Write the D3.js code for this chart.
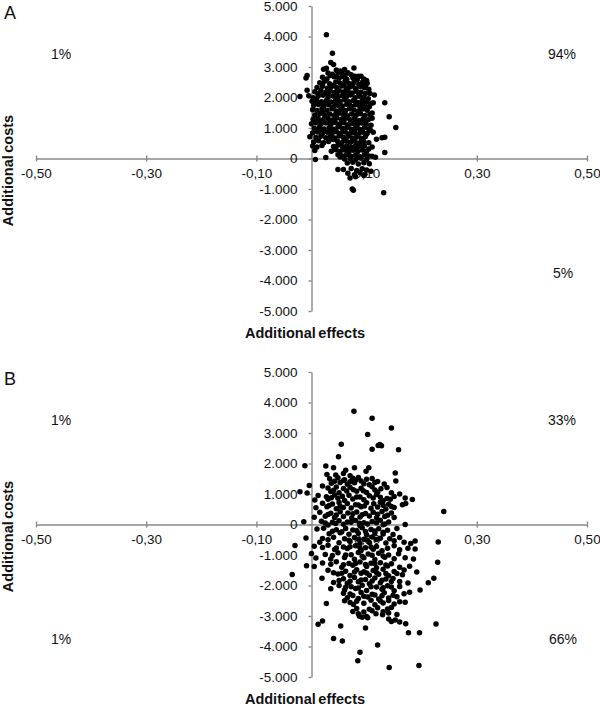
<!DOCTYPE html>
<html><head><meta charset="utf-8">
<script src="https://cdn.jsdelivr.net/npm/d3@7"></script>
<style>body{margin:0;background:#fff}svg{display:block}</style>
</head><body>
<svg id="chart" width="600" height="709"></svg>
<script>
const xTicks = [-0.5, -0.3, -0.1, 0.1, 0.3, 0.5];
const yTicks = [5000, 4000, 3000, 2000, 1000, 0, -1000, -2000, -3000, -4000, -5000];
const panelNames = ["A", "B"];
const xTitle = "Additional effects";
const yTitle = "Additional costs";
const quadrantTextA = ["1%", "94%", "", "5%"]; // NW, NE, SW, SE
const quadrantTextB = ["1%", "33%", "1%", "66%"];

const effectsA = [
0.027,0.038,0.035,0.040,
0.022,0.027,0.045,0.052,0.060,0.077,
0.030,0.038,0.048,0.055,0.066,0.072,0.085,
-0.010,-0.008,0.020,0.028,0.041,0.050,0.058,0.064,0.075,0.083,0.090,0.095,0.100,
0.015,0.024,0.033,0.044,0.052,0.061,0.068,0.077,0.086,0.093,0.101,0.098,
0.010,0.020,0.029,0.037,0.046,0.055,0.063,0.071,0.080,0.088,0.096,0.104,
-0.008,0.006,0.017,0.026,0.034,0.042,0.050,0.058,0.066,0.074,0.082,0.090,0.098,0.114,
-0.021,-0.005,0.003,0.012,0.021,0.030,0.039,0.047,0.055,0.063,0.071,0.079,0.087,0.095,0.103,
0.001,0.009,0.018,0.027,0.035,0.044,0.052,0.060,0.068,0.076,0.084,0.092,0.100,0.108,
0.004,0.013,0.022,0.031,0.040,0.048,0.056,0.064,0.072,0.080,0.088,0.097,0.105,0.133,
0.002,0.010,0.019,0.028,0.037,0.045,0.053,0.061,0.069,0.077,0.085,0.093,0.101,
0.006,0.015,0.024,0.033,0.041,0.049,0.057,0.065,0.073,0.081,0.089,0.097,0.106,0.141,
0.003,0.012,0.021,0.030,0.038,0.046,0.054,0.062,0.070,0.078,0.086,0.094,0.103,0.110,
0.000,0.008,0.017,0.026,0.035,0.043,0.051,0.059,0.067,0.075,0.083,0.091,0.099,0.108,
0.005,0.014,0.023,0.032,0.040,0.048,0.056,0.064,0.072,0.080,0.088,0.096,0.104,0.153,
0.002,0.011,0.020,0.029,0.037,0.045,0.053,0.061,0.069,0.077,0.085,0.093,0.101,0.112,
-0.003,0.008,0.017,0.026,0.034,0.042,0.050,0.058,0.066,0.074,0.082,0.090,0.098,0.128,0.133,
0.004,0.013,0.022,0.031,0.047,0.055,0.063,0.071,0.079,0.087,0.095,0.104,
0.002,0.010,0.019,0.040,0.048,0.056,0.064,0.072,0.080,0.088,0.096,0.110,
0.006,0.036,0.044,0.052,0.060,0.068,0.076,0.084,0.092,0.100,0.133,
0.048,0.056,0.064,0.072,0.080,0.088,0.096,0.104,
0.007,0.026,0.060,0.070,0.080,0.090,0.100,0.116,
0.065,0.075,0.085,0.095,0.105,
0.048,0.058,0.072,0.082,0.092,0.100,0.108,
0.066,0.078,0.088,0.097,
0.070,0.080,0.095,
0.074,0.076,0.131,
0.034,0.045,0.061,0.079,
0.020,0.040,0.059,0.075,0.092,
0.012,0.030,0.046,0.062,0.086,0.106,
0.008,0.026,0.044,0.068,0.092,0.112,
0.020,0.045,0.061,0.085,0.110,
0.016,0.034,0.058,0.082,0.098,
0.018,0.036,0.060,0.078,0.107,
0.039,0.060,0.075,0.091,0.118,
0.044,0.064,0.080,0.104,
0.052,0.085,0.110
];
const costsA = [
4060,3450,3150,3080,
2930,2960,2900,2870,2920,2970,
2800,2760,2830,2780,2810,2750,2700,
2640,2720,2660,2610,2680,2630,2690,2600,2650,2580,2700,2610,2560,
2480,2530,2450,2510,2470,2540,2460,2500,2430,2520,2470,2390,
2330,2370,2300,2360,2320,2380,2310,2350,2290,2360,2320,2270,
2240,2190,2230,2170,2210,2160,2230,2180,2220,2150,2200,2170,2130,2080,
2030,2060,1990,2040,2070,2010,2050,2000,2060,2020,2080,1990,2040,2000,1960,
1880,1920,1860,1900,1850,1910,1870,1930,1860,1900,1840,1890,1850,1800,
1740,1770,1720,1760,1700,1750,1720,1780,1710,1760,1690,1740,1700,1830,
1600,1570,1620,1580,1630,1560,1610,1570,1630,1590,1550,1620,1580,
1430,1470,1420,1460,1410,1480,1440,1400,1460,1420,1470,1410,1440,1370,
1290,1320,1270,1310,1260,1330,1280,1320,1270,1310,1250,1300,1270,1320,
1140,1170,1120,1160,1110,1180,1130,1170,1110,1150,1100,1160,1120,1090,
990,1020,970,1010,960,1030,980,1020,960,1000,950,1010,970,1020,
840,870,820,860,810,880,830,870,810,850,800,860,820,860,
710,690,730,680,720,670,740,690,730,670,710,660,720,680,700,
540,580,520,560,570,520,580,530,570,510,560,520,
410,380,430,390,440,380,420,370,430,390,410,380,
260,240,290,230,280,220,270,230,280,240,200,
120,80,130,70,110,60,120,80,
-30,30,-20,0,-40,10,-30,40,
-150,-120,-180,-140,-170,
-360,-360,-330,-390,-340,-380,-420,
-480,-530,-470,-520,
-640,-600,-560,
-1000,-1040,-1120,
2720,2690,2740,2700,
2420,2400,2440,2410,2430,
2120,2100,2140,2110,2090,2130,
1820,1800,1840,1810,1790,1830,
1520,1500,1540,1510,1490,
1220,1200,1240,1210,1190,
920,900,940,910,930,
620,600,640,610,630,
320,300,340,310,
50,30,70
];

const effectsB = [
0.077,0.110,0.145,0.102,0.054,0.121,0.124,0.127,0.110,0.158,0.049,
-0.012,0.026,0.040,0.078,0.104,0.099,0.062,0.152,
0.028,0.044,0.058,0.070,
0.033,0.048,0.060,0.075,0.080,0.085,0.100,0.110,0.153,
0.036,0.052,0.065,0.078,0.095,0.105,0.115,0.132,
-0.004,0.020,0.030,0.045,0.058,0.070,0.090,0.110,0.126,0.137,
-0.021,-0.008,0.035,0.050,0.082,0.100,0.120,0.145,0.160,
0.012,0.027,0.042,0.056,0.068,0.088,0.105,0.118,0.150,0.170,
0.183,0.006,0.030,0.060,0.075,0.095,0.130,0.143,
0.020,0.038,0.050,0.065,0.080,0.100,0.113,0.125,0.140,0.165,0.171,
0.008,0.028,0.045,0.058,0.072,0.090,0.108,0.120,0.135,0.150,
0.240,
0.015,0.035,0.052,0.066,0.082,0.098,0.112,0.128,0.145,
0.005,0.025,0.042,0.058,0.073,0.088,0.105,0.118,0.133,0.150,
-0.014,0.018,0.038,0.050,0.065,0.080,0.095,0.110,0.125,0.140,
0.170,0.030,0.058,0.088,0.102,0.130,
0.010,0.022,0.045,0.062,0.075,0.092,0.108,0.122,0.138,0.155,
0.032,0.052,0.068,0.085,0.100,0.115,0.130,0.148,
-0.010,0.020,0.040,0.060,0.078,0.095,0.110,0.125,0.142,0.160,0.188,
0.230,0.015,0.050,0.070,0.088,0.105,0.135,0.168,0.180,
-0.030,0.005,0.030,0.058,0.080,0.098,0.118,0.150,
0.188,0.042,0.065,0.090,0.112,0.128,0.160,0.175,
0.000,0.025,0.048,0.072,0.085,0.103,0.122,0.140,0.158,
0.008,0.035,0.060,0.078,0.095,0.115,0.133,0.150,0.170,0.185,
0.229,0.020,0.045,0.068,0.088,0.108,0.125,0.145,
-0.009,0.005,0.055,0.075,0.100,0.118,0.138,0.160,0.178,
0.030,0.062,0.082,0.095,0.112,0.130,0.150,0.168,0.191,
-0.035,0.048,0.070,0.090,0.105,0.122,0.140,0.155,0.165,
0.019,0.058,0.078,0.098,0.115,0.135,0.148,0.222,
0.040,0.065,0.085,0.105,0.125,0.145,0.175,0.212,
0.050,0.072,0.092,0.118,0.138,0.160,
0.035,0.060,0.080,0.100,0.128,0.150,0.197,
0.058,0.070,0.090,0.110,0.132,0.168,0.178,
0.065,0.085,0.102,0.122,0.140,0.155,
0.027,0.070,0.076,0.095,0.115,0.130,0.150,0.170,
0.082,0.105,0.120,0.138,0.145,
0.085,0.117,0.129,0.140,0.155,
0.087,0.092,0.100,0.102,
0.020,0.140,0.145,0.152,0.160,
0.012,0.171,0.226,
0.053,0.098,0.176,0.196,0.040,0.056,0.120,0.088,0.084,0.195,0.141,
0.042,0.058,0.070,0.090,0.120,
0.040,0.064,0.076,0.094,0.115,
0.036,0.048,0.082,0.112,0.125,0.137,
0.032,0.052,0.085,0.096,0.130,0.145,
0.030,0.045,0.075,0.092,0.120,0.138,
0.025,0.044,0.072,0.087,0.118,0.133,
0.038,0.055,0.082,0.098,0.115,0.130,
0.030,0.068,0.085,0.100,0.118,0.150,
0.020,0.045,0.070,0.088,0.108,0.138,
0.038,0.062,0.092,0.110,0.130,
0.035,0.058,0.080,0.098,0.115,0.135,
0.040,0.055,0.078,0.100,0.118,0.135,
0.050,0.070,0.090,0.110,0.128,0.160,
0.062,0.085,0.108,0.130,0.145,
0.075,0.095,0.115,0.128,0.148,
0.060,0.082,0.108,0.125,0.140,0.160,
0.075,0.095,0.110,0.130
];
const costsB = [
3710,3480,3160,2950,2630,2590,2620,2580,2470,2450,2220,
1930,1920,1860,1860,1860,1750,1780,1690,
1640,1620,1670,1600,
1500,1530,1470,1520,1450,1540,1480,1510,1430,
1350,1380,1320,1370,1340,1300,1380,1330,
1280,1260,1200,1230,1180,1220,1190,1240,1170,1210,
1070,1030,1080,1040,1090,1050,1060,1040,1000,
950,910,970,930,960,900,940,980,920,870,
820,800,830,790,840,810,780,830,
700,670,720,690,650,710,680,730,660,650,690,
550,580,520,560,540,580,530,570,510,560,
430,
400,370,420,380,410,360,400,430,380,
240,270,230,260,210,250,280,220,260,230,
90,110,70,120,80,130,60,100,140,80,
0,-20,10,-40,20,-10,
-150,-120,-170,-130,-180,-110,-160,-140,-190,-130,
-300,-270,-320,-290,-340,-280,-310,-330,
-440,-460,-420,-470,-430,-480,-410,-450,-470,-430,-540,
-570,-580,-600,-560,-620,-590,-610,-580,-620,
-690,-710,-680,-740,-700,-760,-720,-700,
-800,-820,-790,-850,-810,-860,-830,-780,
-950,-980,-930,-990,-920,-970,-940,-1000,-960,
-1100,-1130,-1080,-1140,-1090,-1150,-1070,-1120,-1090,-1130,
-1240,-1260,-1220,-1280,-1230,-1270,-1250,-1290,
-1350,-1380,-1400,-1340,-1380,-1420,-1360,-1400,-1370,
-1500,-1530,-1480,-1550,-1510,-1470,-1540,-1490,-1560,
-1640,-1620,-1670,-1600,-1660,-1630,-1680,-1610,-1650,
-1760,-1780,-1740,-1800,-1750,-1790,-1770,-1760,
-1900,-1930,-1880,-1940,-1910,-1870,-1920,-1910,
-2000,-2040,-1990,-2050,-2010,-2030,
-2110,-2150,-2100,-2160,-2120,-2170,-2150,
-2250,-2280,-2230,-2290,-2240,-2270,-2220,
-2400,-2430,-2380,-2440,-2410,-2370,
-2590,-2560,-2620,-2580,-2630,-2570,-2610,-2550,
-2750,-2780,-2730,-2770,-2720,
-2930,-2930,-2960,-2900,-2950,
-3010,-3040,-3020,-3060,
-3160,-3100,-3180,-3130,-3200,
-3270,-3250,-3260,
-3330,-3390,-3550,-3550,-3740,-3820,-3950,-4190,-4470,-4620,-4690,
1420,1440,1400,1430,1410,
1120,1100,1140,1110,1130,
880,860,900,870,890,850,
620,600,640,610,630,590,
330,310,350,320,340,300,
50,30,70,40,60,20,
-220,-240,-200,-230,-210,-250,
-500,-520,-480,-510,-490,-530,
-750,-770,-730,-760,-740,-780,
-1020,-1000,-1040,-1010,-1030,
-1300,-1320,-1280,-1310,-1290,-1330,
-1580,-1600,-1560,-1590,-1570,-1610,
-1840,-1860,-1820,-1850,-1830,-1870,
-2060,-2080,-2040,-2070,-2050,
-2330,-2350,-2310,-2340,-2320,
-2500,-2520,-2480,-2510,-2490,-2530,
-2850,-2870,-2830,-2860
];

const locale = d3.formatLocale({decimal: ",", thousands: ".", grouping: [3], currency: ["", ""], minus: "-"});
const fmtX = locale.format(".2f");
const fmtY = locale.format(",.0f");

const svg = d3.select("#chart");
const FONT = "'Liberation Sans', Arial, sans-serif";
const axisColor = "#8a8a8a";

const panels = [
  {name: panelNames[0], ex: effectsA, co: costsA, quad: quadrantTextA, top: 6},
  {name: panelNames[1], ex: effectsB, co: costsB, quad: quadrantTextB, top: 372}
];

const x = d3.scaleLinear().domain([-0.5, 0.5]).range([36, 587]);

panels.forEach(p => {
  const y = d3.scaleLinear().domain([-5000, 5000]).range([p.top + 305, p.top]);
  const g = svg.append("g");

  const xAxis = d3.axisBottom(x).tickValues(xTicks).tickFormat(fmtX)
    .tickSizeInner(3).tickSizeOuter(0).tickPadding(7);
  const gx = g.append("g").attr("transform", `translate(0,${y(0)})`).call(xAxis);

  const yAxis = d3.axisLeft(y).tickValues(yTicks).tickFormat(fmtY)
    .tickSizeInner(3).tickSizeOuter(0).tickPadding(11);
  const gy = g.append("g").attr("transform", `translate(${x(0)},0)`).call(yAxis);

  [gx, gy].forEach(a => {
    a.selectAll("path.domain").attr("stroke", axisColor).attr("stroke-width", 1.4);
    a.selectAll(".tick line").attr("stroke", axisColor).attr("stroke-width", 1.4);
    a.selectAll("text").attr("font-family", FONT).attr("font-size", 13.5).attr("fill", "#111");
  });
  gx.selectAll(".tick line").attr("y1", -3);

  // points
  const idx = d3.range(Math.min(p.ex.length, p.co.length));
  g.append("g").selectAll("circle").data(idx).join("circle")
    .attr("cx", i => x(p.ex[i]))
    .attr("cy", i => y(p.co[i]))
    .attr("r", 2.75)
    .attr("fill", "#000");

  // panel letter
  g.append("text").attr("x", 4).attr("y", p.top + 13)
    .attr("font-family", FONT).attr("font-size", 18).attr("fill", "#111").text(p.name);

  // quadrant percentages
  const qpos = [[61, 3420], [562, 3420], [61, -3760], [563, -3760]];
  p.quad.forEach((t, k) => {
    if (!t) return;
    g.append("text").attr("x", qpos[k][0]).attr("y", y(qpos[k][1]))
      .attr("dy", "0.35em").attr("text-anchor", "middle")
      .attr("font-family", FONT).attr("font-size", 14).attr("fill", "#111").text(t);
  });

  // axis titles
  g.append("text").attr("x", 305).attr("y", y(-5000) + 27)
    .attr("text-anchor", "middle").attr("font-family", FONT).attr("font-weight", "bold")
    .attr("font-size", 14.5).attr("word-spacing", -1.5).attr("fill", "#111").text(xTitle);
  g.append("text").attr("transform", `translate(13,${y(0) + 12}) rotate(-90)`)
    .attr("text-anchor", "middle").attr("font-family", FONT).attr("font-weight", "bold")
    .attr("font-size", 14.5).attr("word-spacing", -1.5).attr("fill", "#111").text(yTitle);
});
</script>
</body></html>
